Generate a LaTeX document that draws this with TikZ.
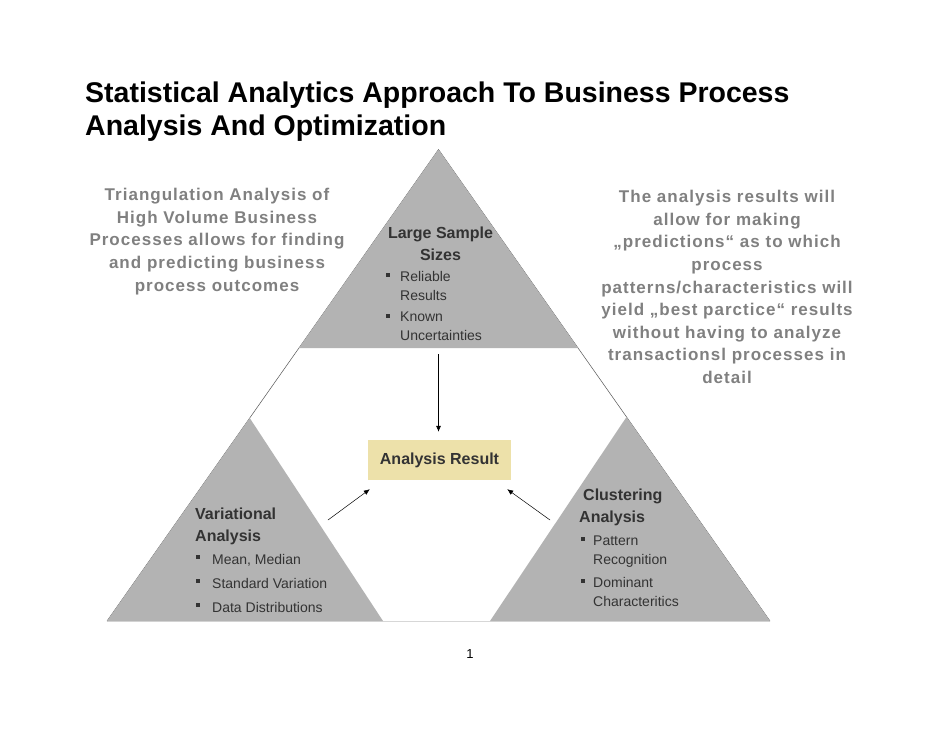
\documentclass[tikz,border=0pt]{standalone}
\usepackage{fontspec}
\setmainfont{Liberation Sans}
\newfontfamily\trackedfont[LetterSpace=6]{Liberation Sans}
\usetikzlibrary{arrows.meta}

\definecolor{trigray}{RGB}{179,179,179}
\definecolor{notegray}{RGB}{128,128,128}
\definecolor{darktext}{RGB}{51,51,51}
\definecolor{edgegray}{RGB}{85,85,85}
\definecolor{basegray}{RGB}{215,215,215}
\definecolor{resfill}{RGB}{237,225,170}

\tikzset{
  tri/.style={fill=trigray},
  note/.style={inner sep=0pt, align=center, text=notegray,
    font=\trackedfont\bfseries\fontsize{17}{22.6}\selectfont},
  head/.style={inner sep=0pt, text=darktext,
    font=\bfseries\fontsize{16}{22}\selectfont},
  item/.style={inner sep=0pt, align=left, anchor=north west, text=darktext,
    font=\fontsize{14}{19}\selectfont},
  bul/.style={fill=darktext},
  conn/.style={draw=black, line width=0.5pt, -{Latex[length=6pt,width=5pt]}},
  res/.style={fill=resfill, minimum width=143pt, minimum height=40pt,
    inner sep=0pt, text=darktext, font=\bfseries\fontsize{16}{20}\selectfont}
}

\begin{document}
\begin{tikzpicture}[x=1pt,y=-1pt]
\useasboundingbox (0,0) rectangle (942,728);
\fill[white] (0,0) rectangle (942,728);

% Title
\node[inner sep=0pt, anchor=base west, font=\bfseries\fontsize{28.5}{31}\selectfont] (title1) at (85,102) {Statistical Analytics Approach To Business Process};
\node[inner sep=0pt, anchor=base west, font=\bfseries\fontsize{28.5}{31}\selectfont] (title2) at (85,135.5) {Analysis And Optimization};

% Outer triangle
\draw[basegray, line width=1.2pt] (107,621.5) -- (770,621.5);
\draw[edgegray, line width=0.5pt] (107,621) -- (438.5,149.5) -- (770,621);

% Three triangles
\fill[tri] (438.5,149.5) -- (298.9,348) -- (578,348) -- cycle;
\fill[tri] (249.7,418) -- (107,621) -- (383,621) -- cycle;
\fill[tri] (626.5,417) -- (490,621) -- (770,621) -- cycle;

% Side notes
\node[note] (leftnote) at (217,241.5) {Triangulation Analysis of\\High Volume Business\\Processes allows for finding\\and predicting business\\process outcomes};
\node[note] (rightnote) at (727,287) {The analysis results will\\allow for making\\„predictions“ as to which\\process\\patterns/characteristics will\\yield „best parctice“ results\\without having to analyze\\transactionsl processes in\\detail};

% Large sample sizes
\node[head, align=center] (large) at (440.5,244) {Large Sample\\Sizes};
\foreach \y/\t [count=\i] in {271/{Reliable\\Results}, 312/{Known\\Uncertainties}} {
  \fill[bul] (386.3,\y+1.5) rectangle +(4,4);
  \node[item] (large-\i) at (400,\y) {\t};
}

% Variational analysis
\node[head, align=left, anchor=north west] (var) at (195,507.5) {Variational\\Analysis};
\foreach \y/\t [count=\i] in {554/{Mean, Median}, 578/{Standard Variation}, 602/{Data Distributions}} {
  \fill[bul] (196.3,\y+0.5) rectangle +(4,4);
  \node[item] (var-\i) at (212,\y) {\t};
}

% Clustering analysis
\node[head, align=left, anchor=north west] (clus) at (579,488.5) {\hspace{4pt}Clustering\\Analysis};
\foreach \y/\t [count=\i] in {535.5/{Pattern\\Recognition}, 577.5/{Dominant\\Characteritics}} {
  \fill[bul] (581.3,\y+1.5) rectangle +(4,4);
  \node[item] (clus-\i) at (593,\y) {\t};
}

% Analysis result
\node[res] (result) at (439.5,460) {Analysis Result};
\coordinate (vtail) at (438.5,354);
\coordinate (ltail) at (328,520);
\coordinate (rtail) at (550,520);
\draw[conn, shorten >=8pt] (vtail) -- (result.north -| vtail);
\draw[conn] (ltail) -- ([xshift=2pt,yshift=-9pt]result.south west);
\draw[conn] (rtail) -- ([xshift=-4pt,yshift=-9pt]result.south east);

% Page number
\node[inner sep=0pt, anchor=base, font=\fontsize{13}{15}\selectfont] (page) at (470,658) {1};
\end{tikzpicture}
\end{document}
